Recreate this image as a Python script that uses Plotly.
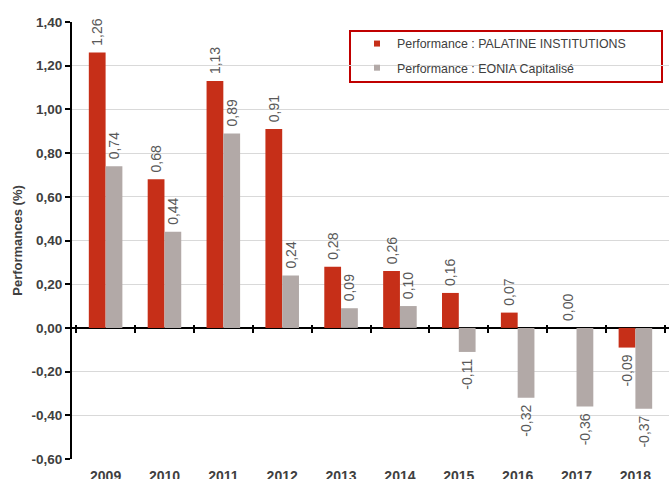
import plotly.graph_objects as go

years = ["2009", "2010", "2011", "2012", "2013", "2014", "2015", "2016", "2017", "2018"]
palatine = [1.26, 0.68, 1.13, 0.91, 0.28, 0.26, 0.16, 0.07, 0.00, -0.09]
eonia = [0.74, 0.44, 0.89, 0.24, 0.09, 0.10, -0.11, -0.32, -0.36, -0.37]
name_palatine = "Performance : PALATINE INSTITUTIONS"
name_eonia = "Performance : EONIA Capitalisé"
y_ticks = [-0.6, -0.4, -0.2, 0.0, 0.2, 0.4, 0.6, 0.8, 1.0, 1.2, 1.4]

RED = "#C62F18"
GREY = "#B2A9A7"
TXT = "#404040"
FONT = "Liberation Sans, Arial, sans-serif"

def fmt(v):
    return f"{v:.2f}".replace(".", ",")

def label(v):
    s = fmt(v)
    return (" " + s) if v >= 0 else (s + " ")

fig = go.Figure()
for name, vals, col in [(name_palatine, palatine, RED), (name_eonia, eonia, GREY)]:
    fig.add_trace(go.Bar(
        x=years, y=vals, name=name, marker=dict(color=col, line=dict(width=0)),
        text=[label(v) for v in vals], textposition="outside", textangle=-90,
        textfont=dict(size=14, color="#595959", family=FONT),
        constraintext="none", cliponaxis=False, showlegend=False,
    ))
# legend-only entries (small square symbols), also carrying the categories for the label axis
for i, (name, col) in enumerate([(name_palatine, RED), (name_eonia, GREY)]):
    fig.add_trace(go.Scatter(
        x=years, y=[None] * len(years), mode="markers", name=name,
        marker=dict(symbol="square", size=6, color=col),
        xaxis="x2", legendgroup=f"g{i}", hoverinfo="skip",
    ))

fig.update_layout(
    width=669, height=479,
    margin=dict(l=72, r=0, t=22, b=20),
    paper_bgcolor="white", plot_bgcolor="white",
    separators=", ",
    barmode="group", bargap=0.43, bargroupgap=0,
    font=dict(family=FONT, color=TXT),
    showlegend=True,
    legend=dict(x=(357 - 72) / 597, y=1 - 7 / 437, xanchor="left", yanchor="top",
                bgcolor="rgba(0,0,0,0)", borderwidth=0,
                font=dict(size=12.4, color=TXT), tracegroupgap=5,
                itemsizing="trace"),
    xaxis=dict(type="category", anchor="free", position=0.3 + 4 / 437,
               showline=False, showgrid=False, zeroline=False, automargin=False,
               ticks="outside", ticklen=8, tickwidth=2, tickcolor="black",
               tickson="boundaries", showticklabels=False),
    xaxis2=dict(type="category", overlaying="x", matches="x", anchor="y", side="bottom",
                showline=False, showgrid=False, zeroline=False, automargin=False,
                ticks="outside", ticklen=4, tickcolor="rgba(0,0,0,0)",
                tickfont=dict(size=14, color=TXT, family=FONT, weight="bold")),
    yaxis=dict(range=[-0.6, 1.4], tickvals=y_ticks, ticktext=[fmt(v) for v in y_ticks],
               showgrid=True, gridcolor="#D9D9D9", gridwidth=1, automargin=False,
               zeroline=True, zerolinecolor="black", zerolinewidth=2,
               showline=True, linecolor="black", linewidth=2,
               ticks="outside", ticklen=5, tickwidth=2, tickcolor="black",
               tickfont=dict(size=13.5, color=TXT, family=FONT, weight="bold"),
               title=dict(text="Performances (%)", standoff=6,
                          font=dict(size=13, color=TXT, family=FONT, weight="bold"))),
    shapes=[dict(type="rect", xref="paper", yref="paper",
                 x0=(350 - 72) / 597, x1=(662 - 72) / 597,
                 y0=1 - (82 - 22) / 437, y1=1 - (31 - 22) / 437,
                 line=dict(color="#C00000", width=2), fillcolor="white", layer="below")],
)

fig.write_html("out.html", config={"displayModeBar": False},
               post_script="document.body.style.margin='0';document.body.style.overflow='hidden';")
